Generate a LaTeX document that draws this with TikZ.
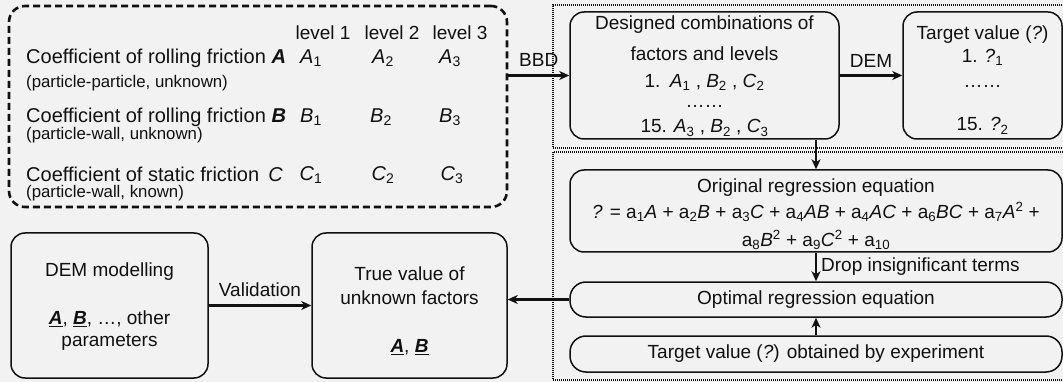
\documentclass[tikz,border=0pt]{standalone}
\usepackage{fontspec}
\setmainfont{Liberation Sans}
\usetikzlibrary{arrows.meta}
\definecolor{bg}{HTML}{F2F2F2}
\definecolor{ink}{HTML}{111111}
\newcommand\fa[2]{\textit{#1}\textsubscript{#2}}
\newcommand\ubi[1]{\underline{\textbf{\textit{#1}}}}
\begin{document}
\begin{tikzpicture}[x=1pt,y=-1pt,
  font=\fontsize{19}{22}\selectfont, color=ink,
  box/.style={draw, line width=1.5pt, rounded corners=14pt, inner sep=0pt},
  pill/.style={draw, line width=1.5pt, rounded corners=16pt, inner sep=0pt},
  frame/.style={draw, line width=2.2pt, dash pattern=on 1pt off 1pt, inner sep=0pt},
  txt/.style={inner sep=0pt, align=center},
  row/.style={inner sep=0pt, font=\fontsize{20}{23}\selectfont},
  small/.style={inner sep=0pt, font=\fontsize{16.8}{19}\selectfont},
  arr/.style={line width=2.3pt, -{Stealth[length=10pt,width=9pt,inset=3pt]}},
]
\fill[bg] (0,0) rectangle (1063,382);
\useasboundingbox (0,0) rectangle (1063,382);
\clip (0,0) rectangle (1063,382);

% containers
\node[draw, line width=2.6pt, dash pattern=on 7pt off 4pt, rounded corners=16pt,
      minimum width=498pt, minimum height=201pt] (par) at (258,106.5) {};
\node[frame, minimum width=515pt, minimum height=143pt] (topf) at (810.5,76.5) {};
\node[frame, minimum width=515pt, minimum height=228pt] (botf) at (810.5,266) {};

% parameter table
\node[txt] (l1) at (323,33) {level 1};
\node[txt] (l2) at (392,33) {level 2};
\node[txt] (l3) at (460,33) {level 3};
\node[row, anchor=west] (ra) at (26,58.5) {Coefficient of rolling friction \textbf{\textit{A}}};
\node[small, anchor=west] (sa) at (26,83.5) {(particle-particle, unknown)};
\node[row, anchor=west] (rb) at (26,117) {Coefficient of rolling friction \textbf{\textit{B}}};
\node[small, anchor=west] (sb) at (26,135) {(particle-wall, unknown)};
\node[row, anchor=west] (rc) at (26,174.5) {Coefficient of static friction\hspace{0.45em}\textit{C}};
\node[small, anchor=west] (sc) at (26,193) {(particle-wall, known)};
\node[row] (a1) at (311,58.5) {\fa{A}{1}};
\node[row] (a2) at (383,58.5) {\fa{A}{2}};
\node[row] (a3) at (450,58.5) {\fa{A}{3}};
\node[row] (b1) at (311,117) {\fa{B}{1}};
\node[row] (b2) at (381,117) {\fa{B}{2}};
\node[row] (b3) at (450,117) {\fa{B}{3}};
\node[row] (c1) at (311,175) {\fa{C}{1}};
\node[row] (c2) at (383,175) {\fa{C}{2}};
\node[row] (c3) at (452,175) {\fa{C}{3}};

% boxes
\node[box, minimum width=269pt, minimum height=127pt] (des) at (704.5,75.5) {};
\node[box, minimum width=159pt, minimum height=127pt] (tgt) at (982.5,75.5) {};
\node[box, minimum width=492pt, minimum height=82pt] (orig) at (816,211) {};
\node[pill, minimum width=492pt, minimum height=35pt] (opt) at (816,299.5) {Optimal regression equation};
\node[pill, minimum width=492pt, minimum height=36pt] (exp) at (816,354) {Target value (\textit{?}) obtained by experiment};
\node[box, minimum width=197pt, minimum height=145pt] (dem) at (109.5,305.5) {};
\node[box, minimum width=195pt, minimum height=145pt] (tv) at (409.5,305.5) {};

% box texts
\node[txt] (d1) at (704.5,25) {Designed combinations of};
\node[txt] (d2) at (704.5,54) {factors and levels};
\node[txt] (d3) at (704.5,82.5) {1.\enspace\fa{A}{1} , \fa{B}{2} , \fa{C}{2}};
\node[txt] (d4) at (704.5,106) {……};
\node[txt] (d5) at (704.5,128) {15. \fa{A}{3} , \fa{B}{2} , \fa{C}{3}};
\node[txt] (t1) at (982.5,35) {Target value (\textit{?})};
\node[txt] (t2) at (982.5,57) {1. \textit{?}\textsubscript{1}};
\node[txt] (t3) at (982.5,86) {……};
\node[txt] (t4) at (982.5,126) {15. \textit{?}\textsubscript{2}};
\node[txt] (o1) at (816,188) {Original regression equation};
\node[txt] (o2) at (816,212) {\textit{?} = a\textsubscript{1}\textit{A} + a\textsubscript{2}\textit{B} + a\textsubscript{3}\textit{C} + a\textsubscript{4}\textit{AB} + a\textsubscript{4}\textit{AC} + a\textsubscript{6}\textit{BC} + a\textsubscript{7}\textit{A}\textsuperscript{2} +};
\node[txt] (o3) at (816,240) {a\textsubscript{8}\textit{B}\textsuperscript{2} + a\textsubscript{9}\textit{C}\textsuperscript{2} + a\textsubscript{10}};
\node[txt] (m1) at (109.5,272) {DEM modelling};
\node[txt] (m2) at (109.5,319) {\ubi{A}, \ubi{B}, …, other};
\node[txt] (m3) at (109.5,342) {parameters};
\node[txt] (v1) at (409.5,274) {True value of};
\node[txt] (v2) at (409.5,298) {unknown factors};
\node[txt] (v3) at (409.5,347) {\ubi{A}, \ubi{B}};

% connectors
\draw[arr] (par.east |- des.west) -- node[txt, above=8pt] (bbd) {BBD} (des.west);
\draw[arr] (des.east) -- node[txt, above=7pt] (demlab) {DEM} (tgt.west);
\draw[arr] (des.south -| orig.north) -- (orig.north);
\draw[arr] (orig.south) -- node[txt, right=4pt] (drop) {Drop insignificant terms} (opt.north);
\draw[arr] (exp.north) -- (opt.south);
\draw[arr] (opt.west) -- (opt.west -| tv.east);
\draw[arr] (dem.east) -- node[txt, above=8pt] (val) {Validation} (tv.west);
\end{tikzpicture}
\end{document}
